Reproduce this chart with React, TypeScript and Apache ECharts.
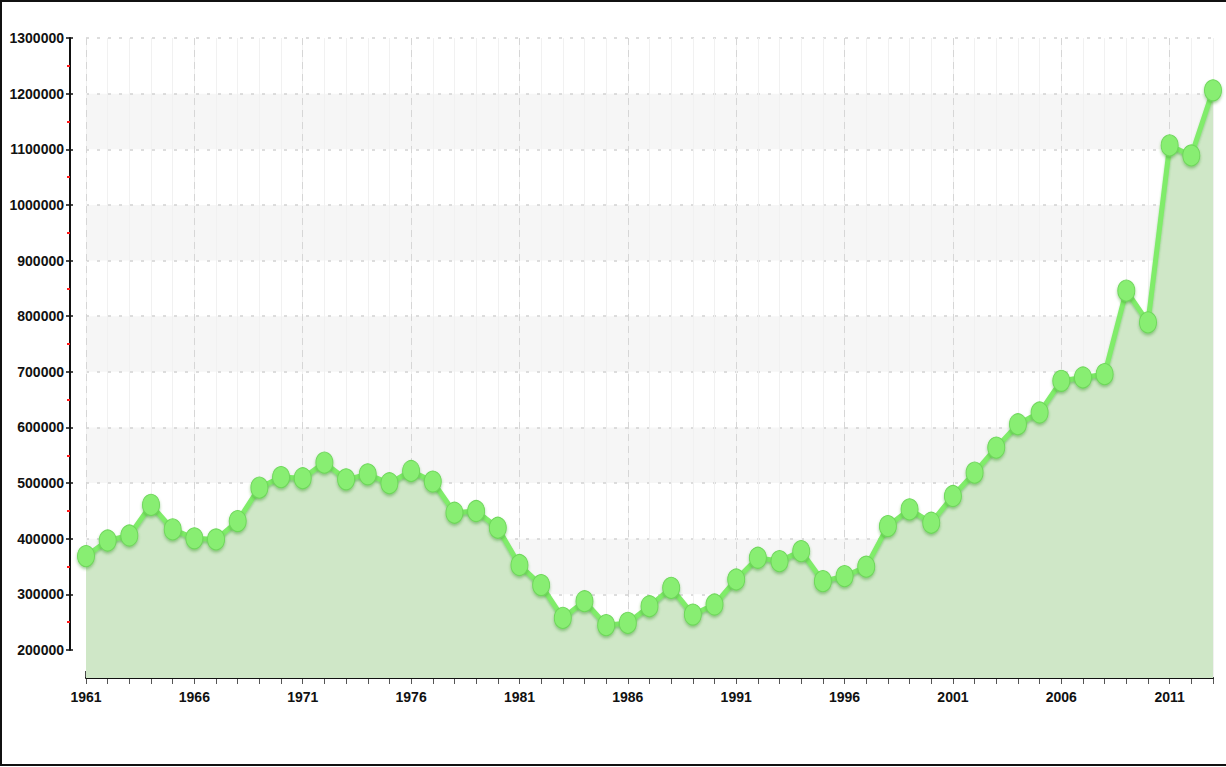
import React, { useEffect, useRef } from "react";
import * as echarts from "echarts";

const years: string[] = [
  "1961", "1962", "1963", "1964", "1965", "1966", "1967", "1968", "1969", "1970",
  "1971", "1972", "1973", "1974", "1975", "1976", "1977", "1978", "1979", "1980",
  "1981", "1982", "1983", "1984", "1985", "1986", "1987", "1988", "1989", "1990",
  "1991", "1992", "1993", "1994", "1995", "1996", "1997", "1998", "1999", "2000",
  "2001", "2002", "2003", "2004", "2005", "2006", "2007", "2008", "2009", "2010",
  "2011", "2012", "2013",
];

const values: number[] = [
  369000, 397000, 406000, 461000, 417000, 401000, 399000, 432000, 492000, 511000,
  509000, 537000, 507000, 516000, 500000, 522000, 503000, 447000, 450000, 420000,
  353000, 317000, 258000, 288000, 245000, 249000, 279000, 312000, 264000, 282000,
  327000, 366000, 360000, 378000, 324000, 333000, 350000, 423000, 453000, 429000,
  477000, 519000, 564000, 606000, 627000, 684000, 690000, 696000, 846000, 789000,
  1107000, 1089000, 1206000,
];

const yMin = 200000;
const yMax = 1300000;
const yStep = 100000;
const areaFloor = 150000;

const FONT = "'Liberation Sans', Arial, sans-serif";

export default function App() {
  const ref = useRef<HTMLDivElement>(null);

  useEffect(() => {
    document.body.style.margin = "0";
    if (!ref.current) return;
    const chart = echarts.init(ref.current, undefined, { renderer: "svg" });
    const labelStyle = {
      fontFamily: FONT,
      fontSize: 14,
      fontWeight: "bold" as const,
      color: "#111",
    };
    chart.setOption({
      animation: false,
      backgroundColor: "#fff",
      graphic: [
        {
          type: "rect",
          shape: { x: 1, y: 1, width: 1230, height: 764 },
          style: { fill: "none", stroke: "#111", lineWidth: 2 },
          z: 100,
        },
      ],
      grid: [
        { left: 86, right: 13, top: 38, bottom: 89 },
        { left: 86, right: 13, top: 38, bottom: 117 },
      ],
      xAxis: [
        {
          gridIndex: 0,
          type: "category",
          position: "bottom",
          data: years,
          boundaryGap: false,
          axisLine: { show: true, onZero: false, lineStyle: { color: "#111", width: 2 } },
          axisTick: { show: true, interval: 4, inside: true, length: 7, lineStyle: { color: "#111", width: 1.5 } },
          axisLabel: { ...labelStyle, interval: 4, margin: 12 },
          splitLine: { show: true, interval: 4, lineStyle: { type: [7, 5], color: "#d6d6d6", width: 1 } },
          z: 3,
        },
        {
          gridIndex: 0,
          type: "category",
          position: "bottom",
          data: years,
          boundaryGap: false,
          axisLine: { show: false, onZero: false },
          axisTick: { show: true, interval: 0, length: 6, lineStyle: { color: "#555", width: 1 } },
          axisLabel: { show: false },
          splitLine: { show: true, interval: 0, lineStyle: { color: "#f1f1f1", width: 1 } },
          z: 1,
        },
        {
          gridIndex: 1,
          type: "value",
          show: false,
        },
      ],
      yAxis: [
        {
          gridIndex: 0,
          type: "value",
          position: "left",
          min: areaFloor,
          max: yMax,
          show: false,
          splitLine: { show: false },
        },
        {
          gridIndex: 1,
          type: "value",
          position: "left",
          min: yMin,
          max: yMax,
          interval: yStep,
          offset: 16,
          axisLine: { show: true, onZero: false, lineStyle: { color: "#111", width: 2 } },
          axisTick: { show: true, length: 4, lineStyle: { color: "#111", width: 1.5 } },
          minorTick: { show: true, splitNumber: 2, length: 3, lineStyle: { color: "#ff1a1a", width: 2 } },
          axisLabel: { ...labelStyle, margin: 6, formatter: (v: number) => String(v) },
          splitLine: { show: true, lineStyle: { type: [3, 8], color: "#d2d2d2", width: 1.5 } },
          splitArea: { show: true, areaStyle: { color: ["rgba(255,255,255,0)", "#f6f6f6"] } },
        },
        {
          gridIndex: 1,
          type: "value",
          position: "left",
          min: yMin,
          max: yMax,
          interval: yStep,
          offset: 16,
          axisLine: { show: false, onZero: false },
          axisTick: { show: true, inside: true, length: 3, lineStyle: { color: "#111", width: 1.5 } },
          axisLabel: { show: false },
          splitLine: { show: false },
        },
      ],
      series: [
        {
          type: "line",
          xAxisIndex: 0,
          yAxisIndex: 0,
          data: values,
          symbol: "circle",
          symbolSize: [17, 21],
          showAllSymbol: true,
          lineStyle: {
            color: "#80ec6a",
            width: 5,
            shadowBlur: 2,
            shadowColor: "rgba(60,170,50,0.45)",
            shadowOffsetY: 2,
          },
          itemStyle: {
            color: "#88ee72",
            borderColor: "#6ed85a",
            borderWidth: 1,
            shadowBlur: 3,
            shadowColor: "rgba(50,150,40,0.45)",
            shadowOffsetY: 2,
          },
          areaStyle: { color: "#cfe7c7", opacity: 1 },
          z: 5,
        },
      ],
    });
    return () => chart.dispose();
  }, []);

  return <div ref={ref} style={{ width: 1226, height: 767 }} />;
}
